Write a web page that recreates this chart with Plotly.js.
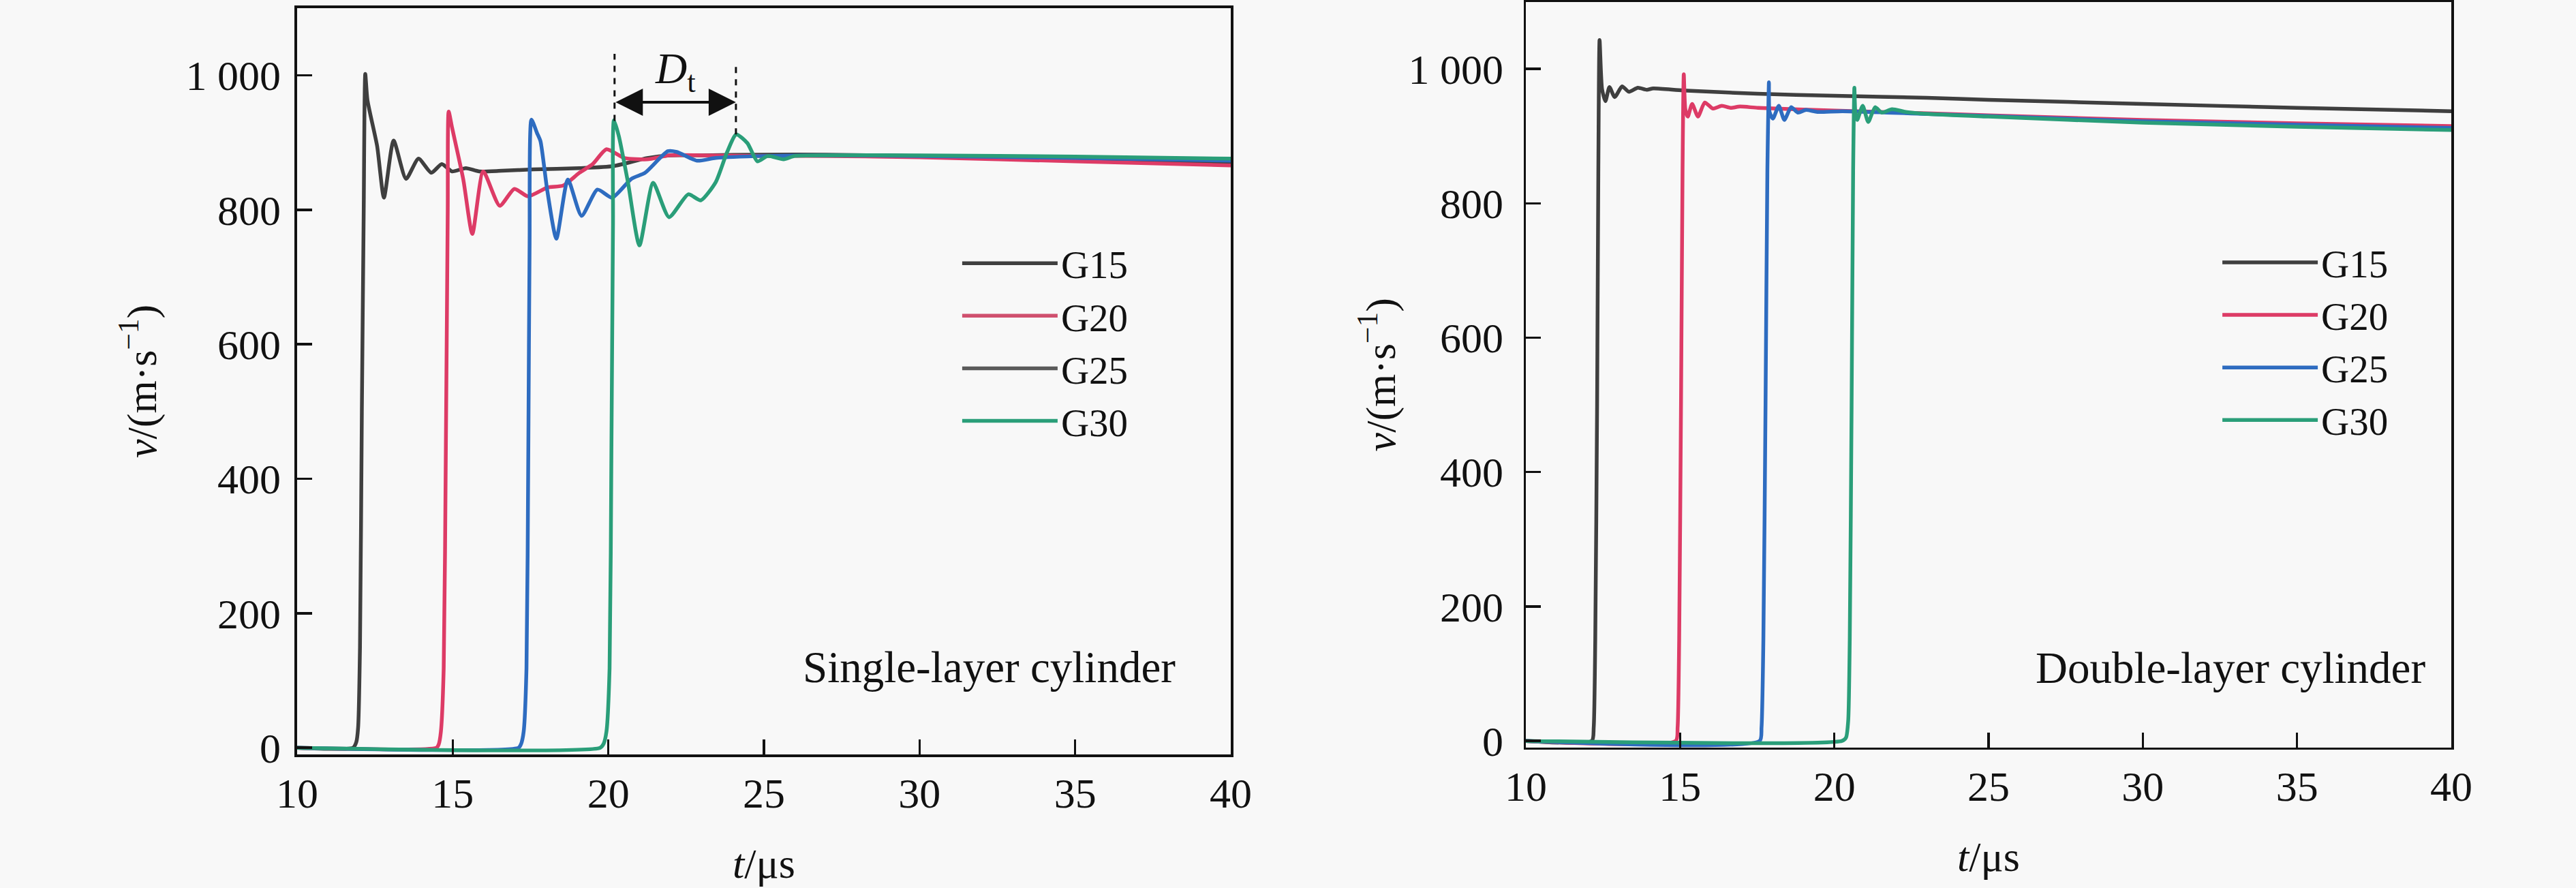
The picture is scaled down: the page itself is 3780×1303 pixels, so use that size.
<!DOCTYPE html>
<html>
<head>
<meta charset="utf-8">
<script src="https://cdn.plot.ly/plotly-3.0.1.min.js"></script>
<style>
  html, body { margin: 0; padding: 0; background: #f8f8f8; }
  #myDiv { width: 3780px; height: 1303px; }
</style>
</head>
<body>
<div id="myDiv"></div>
<script>
// series names
let names = ['G15', 'G20', 'G25', 'G30'];

// single-layer cylinder, t in us, v in m/s
let tS15 = [10, 11.8, 11.9, 11.96, 12.02, 12.08, 12.14, 12.19, 12.26, 12.57, 12.79, 13.1, 13.5, 13.9, 14.31, 14.65, 14.98, 15.42, 15.85, 16.58, 17.6, 19.07, 20.16, 21.25, 21.98, 23, 25, 27, 30, 35, 40];
let vS15 = [0, 0, 8, 30, 150, 500, 800, 1002, 963, 895, 818, 903, 846, 876, 855, 868, 857, 862, 857, 858, 860, 862, 865, 877, 881, 881, 882, 882, 880, 875, 868];

let tS20 = [10, 14.48, 14.55, 14.62, 14.71, 14.78, 14.84, 14.87, 14.98, 15.34, 15.63, 15.98, 16.51, 16.98, 17.42, 18.04, 18.55, 19.07, 19.5, 19.94, 20.52, 21.25, 21.98, 23, 25, 27, 30, 35, 40];
let vS20 = [0, 0, 5, 24, 118, 450, 800, 946, 922, 845, 764, 857, 806, 831, 820, 833, 836, 855, 868, 890, 877, 875, 881, 881, 880, 880, 878, 872, 866];

let tS25 = [10, 17.12, 17.2, 17.28, 17.37, 17.43, 17.47, 17.53, 17.71, 17.82, 18.04, 18.33, 18.7, 19.14, 19.65, 20.12, 20.74, 21.18, 21.91, 22.2, 22.85, 23.45, 25, 27, 30, 35, 40];
let vS25 = [0, 0, 6, 24, 118, 450, 750, 934, 914, 902, 828, 757, 845, 791, 830, 818, 846, 855, 887, 886, 873, 877, 880, 881, 880, 877, 873];

let tS30 = [10, 19.74, 19.85, 19.94, 20.04, 20.1, 20.15, 20.18, 20.34, 20.63, 21.0, 21.44, 21.95, 22.57, 22.97, 23.45, 23.81, 24.11, 24.47, 24.79, 25.12, 25.63, 25.99, 27, 30, 35, 40];
let vS30 = [0, 0, 6, 24, 118, 450, 780, 933, 909, 841, 747, 840, 789, 823, 814, 841, 885, 912, 899, 872, 880, 875, 880, 881, 881, 879, 876];

// double-layer cylinder
let tD15 = [10, 12.14, 12.2, 12.25, 12.31, 12.35, 12.39, 12.47, 12.58, 12.71, 12.88, 13.12, 13.34, 13.63, 13.92, 14.13, 15.1, 17.5, 20, 23, 25, 30, 35, 40];
let vD15 = [0, 0, 20, 150, 500, 850, 1043, 970, 952, 973, 958, 974, 966, 972, 969, 971, 968, 963, 960, 957, 954, 948, 942, 937];

let tD20 = [10, 14.86, 14.92, 14.97, 15.03, 15.08, 15.12, 15.17, 15.25, 15.39, 15.58, 15.8, 16.06, 16.35, 16.65, 16.94, 17.53, 20, 23, 25, 30, 35, 40];
let vD20 = [0, 0, 20, 150, 500, 850, 992, 940, 929, 948, 929, 950, 941, 945, 942, 944, 942, 938, 934, 931, 924, 919, 915];

let tD25 = [10, 17.58, 17.64, 17.7, 17.77, 17.83, 17.88, 17.9, 18.01, 18.2, 18.38, 18.6, 18.82, 19.08, 19.45, 20.26, 23, 25, 30, 35, 40];
let vD25 = [0, 0, 20, 150, 500, 850, 980, 936, 926, 945, 924, 943, 935, 939, 936, 937, 933, 930, 922, 917, 912];

let tD30 = [10, 20.25, 20.38, 20.45, 20.5, 20.56, 20.61, 20.65, 20.68, 20.74, 20.92, 21.1, 21.32, 21.54, 21.87, 22.31, 23.06, 25, 30, 35, 40];
let vD30 = [0, 0, 5, 30, 150, 500, 850, 972, 936, 924, 945, 921, 943, 935, 940, 936, 933, 929, 920, 914, 909];

// axis ticks
let xTicks = [10, 15, 20, 25, 30, 35, 40];
let yTicks = [0, 200, 400, 600, 800, 1000];
let yTickText = ['0', '200', '400', '600', '800', '1 000'];

// D_t marker
let dtStart = 20.2;
let dtEnd = 24.1;
let dtArrowV = 960;
let dtStartSpan = [932, 1032];
let dtEndSpan = [912, 1019];

let colors = ['#3f3f3f', '#dd3b66', '#2e6cc0', '#2a9e79'];
// the left legend shows G25 in grey
let leftLegendColors = ['#3f3f3f', '#d0506f', '#5a5a5a', '#2a9e79'];

let font = 'Liberation Serif, Times New Roman, serif';

let left = [[tS15, vS15], [tS20, vS20], [tS25, vS25], [tS30, vS30]];
let right = [[tD15, vD15], [tD20, vD20], [tD25, vD25], [tD30, vD30]];

let data = [];
for (let i = 0; i < left.length; i++) {
  data.push({
    x: left[i][0], y: left[i][1], xaxis: 'x', yaxis: 'y',
    mode: 'lines', type: 'scatter', name: names[i],
    line: {color: colors[i], width: 5.5, shape: 'spline', smoothing: 0.6},
    showlegend: false
  });
}
// legend-only entries for the left panel
for (let i = 0; i < names.length; i++) {
  data.push({
    x: [null], y: [null], xaxis: 'x', yaxis: 'y',
    mode: 'lines', type: 'scatter', name: names[i],
    line: {color: leftLegendColors[i], width: 5.5},
    legend: 'legend'
  });
}
for (let i = 0; i < right.length; i++) {
  data.push({
    x: right[i][0], y: right[i][1], xaxis: 'x2', yaxis: 'y2',
    mode: 'lines', type: 'scatter', name: names[i],
    line: {color: colors[i], width: 5.5, shape: 'spline', smoothing: 0.6},
    legend: 'legend2'
  });
}

function xAxis(domain, anchor, labelGap) {
  return {
    domain: domain, anchor: anchor, range: [10, 40],
    tickmode: 'array', tickvals: xTicks,
    ticks: 'inside', ticklen: 22, tickwidth: 3.5, tickcolor: '#111',
    ticklabelstandoff: labelGap,
    showline: true, linewidth: 3.5, linecolor: '#111', mirror: true,
    showgrid: false, zeroline: false,
    tickfont: {family: font, size: 62, color: '#111'},
    title: {text: '<i>t</i>/μs', font: {family: font, size: 62, color: '#111'}, standoff: 48}
  };
}
function yAxis(domain, anchor, labelGap, titleGap) {
  return {
    domain: domain, anchor: anchor, range: [-10, 1100],
    tickmode: 'array', tickvals: yTicks, ticktext: yTickText,
    ticks: 'inside', ticklen: 22, tickwidth: 3.5, tickcolor: '#111',
    ticklabelstandoff: labelGap,
    showline: true, linewidth: 3.5, linecolor: '#111', mirror: true,
    showgrid: false, zeroline: false,
    tickfont: {family: font, size: 62, color: '#111'},
    title: {text: '<i>v</i>/(m·s<sup>−1</sup>)', font: {family: font, size: 62, color: '#111'}, standoff: titleGap}
  };
}

let legendStyle = {
  bgcolor: 'rgba(0,0,0,0)', borderwidth: 0,
  font: {family: font, size: 57, color: '#111'},
  itemwidth: 140, tracegroupgap: 0,
  xanchor: 'left', yanchor: 'top'
};

let layout = {
  width: 3780, height: 1303,
  margin: {l: 0, r: 0, t: 0, b: 0},
  paper_bgcolor: '#f8f8f8', plot_bgcolor: '#f8f8f8',
  xaxis: xAxis([0.11534, 0.47778], 'y', 0),
  yaxis: yAxis([0.15042, 0.99094], 'x', 8, 24),
  xaxis2: xAxis([0.59233, 0.95159], 'y2', 0),
  yaxis2: yAxis([0.1581, 0.99808], 'x2', 17, 0),
  legend: Object.assign({x: 0.3722, y: 0.737}, legendStyle),
  legend2: Object.assign({x: 0.8614, y: 0.738}, legendStyle),
  shapes: [
    {type: 'line', xref: 'x', yref: 'y', x0: dtStart, x1: dtStart, y0: dtStartSpan[0], y1: dtStartSpan[1],
     line: {color: '#111', width: 3, dash: 'dash'}},
    {type: 'line', xref: 'x', yref: 'y', x0: dtEnd, x1: dtEnd, y0: dtEndSpan[0], y1: dtEndSpan[1],
     line: {color: '#111', width: 3, dash: 'dash'}}
  ],
  annotations: [
    {xref: 'x', yref: 'y', x: dtEnd, y: dtArrowV, axref: 'x', ayref: 'y', ax: dtStart, ay: dtArrowV,
     text: '', showarrow: true, arrowside: 'end+start', arrowhead: 2, startarrowhead: 2,
     arrowsize: 2, startarrowsize: 2, arrowwidth: 4, arrowcolor: '#111'},
    {xref: 'x', yref: 'y', x: (dtStart + dtEnd) / 2, y: 1006, text: '<i>D</i><sub>t</sub>',
     showarrow: false, font: {family: font, size: 64, color: '#111'}},
    {xref: 'x', yref: 'y', x: 38.27, y: 120, xanchor: 'right', text: 'Single-layer cylinder',
     showarrow: false, font: {family: font, size: 65, color: '#111'}},
    {xref: 'x2', yref: 'y2', x: 39.2, y: 109, xanchor: 'right', text: 'Double-layer cylinder',
     showarrow: false, font: {family: font, size: 65, color: '#111'}}
  ]
};

Plotly.newPlot('myDiv', data, layout, {staticPlot: true});
</script>
</body>
</html>
